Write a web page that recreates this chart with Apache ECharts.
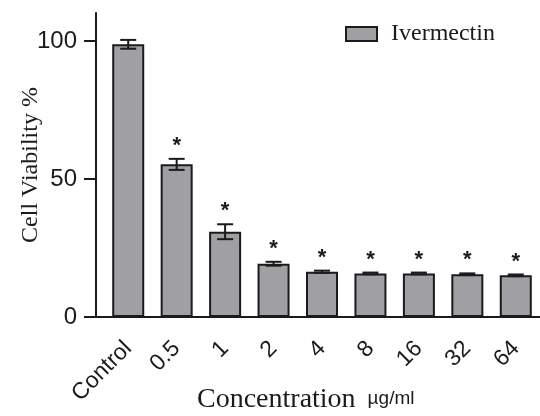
<!DOCTYPE html>
<html>
<head>
<meta charset="utf-8">
<script src="https://cdn.jsdelivr.net/npm/echarts@6/dist/echarts.min.js"></script>
<style>
  html, body { margin: 0; padding: 0; background: #fff; }
  #chart { width: 540px; height: 416px; }
</style>
</head>
<body>
<div id="chart"></div>
<script>
// 数据
const categories = ['Control', '0.5', '1', '2', '4', '8', '16', '32', '64']
const viability = [98.8, 55.3, 30.9, 19.3, 16.4, 15.8, 15.8, 15.5, 15.1]
const errors = [1.6, 2.0, 2.7, 0.7, 0.4, 0.3, 0.3, 0.3, 0.3]
const marks = ['', '*', '*', '*', '*', '*', '*', '*', '*']

const ink = '#1c1a1a'
const myChart = echarts.init(document.getElementById('chart'))

myChart.setOption({
  animation: false,
  title: {
    // 横坐标标题：Concentration 用衬线字体，µg/ml 用无衬线字体
    text: '{a|Concentration}{b|µg/ml}',
    left: 192,
    top: 381,
    textStyle: {
      rich: {
        a: { fontFamily: 'Liberation Serif', fontSize: 28, fontWeight: 'normal', color: ink },
        b: { fontFamily: 'Liberation Sans', fontSize: 19, fontWeight: 'normal', color: ink, padding: [0, 0, 3, 12] }
      }
    }
  },
  legend: {
    left: 340,
    top: 17,
    icon: 'rect',
    itemWidth: 31,
    itemHeight: 14,
    itemStyle: { color: '#a0a0a4', borderColor: ink, borderWidth: 2 },
    textStyle: {
      fontFamily: 'Liberation Serif',
      fontSize: 24,
      color: ink,
      padding: [0, 0, 0, 9]
    },
    data: ['Ivermectin']
  },
  grid: [
    // 柱子所在区域，0~100
    { left: 104, right: -2, top: 41, bottom: 99 },
    // 外框：纵轴线延伸到 110，横轴线延伸到纵轴
    { left: 96, right: 0, top: 13, bottom: 99 }
  ],
  xAxis: [
    {
      type: 'category',
      gridIndex: 0,
      data: categories,
      axisLine: { lineStyle: { color: ink, width: 2 } },
      axisTick: { length: 12, alignWithLabel: true, lineStyle: { color: ink, width: 2 } },
      axisLabel: {
        rotate: 45,
        margin: 28,
        interval: 0,
        fontFamily: 'Liberation Sans',
        fontSize: 23,
        color: ink
      }
    },
    {
      type: 'category',
      gridIndex: 1,
      data: [''],
      axisLine: { lineStyle: { color: ink, width: 2 } },
      axisTick: { show: false },
      axisLabel: { show: false }
    }
  ],
  yAxis: [
    {
      type: 'value',
      gridIndex: 0,
      min: 0,
      max: 100,
      interval: 50,
      offset: 8,
      splitLine: { show: false },
      axisLine: { show: true, lineStyle: { color: ink, width: 2 } },
      axisTick: { show: true, inside: false, length: 12, lineStyle: { color: ink, width: 2 } },
      axisLabel: {
        margin: 19,
        fontFamily: 'Liberation Sans',
        fontSize: 24,
        color: ink
      }
    },
    {
      type: 'value',
      gridIndex: 1,
      min: 0,
      max: 110,
      name: 'Cell Viability %',
      nameLocation: 'middle',
      nameGap: 53,
      nameTextStyle: { fontFamily: 'Liberation Serif', fontSize: 24, color: ink },
      splitLine: { show: false },
      axisLine: { show: true, lineStyle: { color: ink, width: 2 } },
      axisTick: { show: false },
      axisLabel: { show: false }
    }
  ],
  series: [
    {
      name: 'Ivermectin',
      type: 'bar',
      xAxisIndex: 0,
      yAxisIndex: 0,
      data: viability,
      barWidth: 32,
      itemStyle: { color: '#a0a0a4', borderColor: ink, borderWidth: 2 }
    },
    {
      // 误差线 + 显著性星号
      type: 'custom',
      xAxisIndex: 0,
      yAxisIndex: 0,
      data: viability.map((v, i) => [i, v, errors[i]]),
      renderItem: (params, api) => {
        const i = api.value(0)
        const hi = api.coord([i, api.value(1) + api.value(2)])
        const lo = api.coord([i, api.value(1) - api.value(2)])
        const half = 8
        const style = { stroke: ink, lineWidth: 2 }
        const children = [
          { type: 'line', shape: { x1: hi[0], y1: hi[1], x2: lo[0], y2: lo[1] }, style },
          { type: 'line', shape: { x1: hi[0] - half, y1: hi[1], x2: hi[0] + half, y2: hi[1] }, style },
          { type: 'line', shape: { x1: lo[0] - half, y1: lo[1], x2: lo[0] + half, y2: lo[1] }, style }
        ]
        if (marks[i]) {
          children.push({
            type: 'text',
            style: {
              text: marks[i],
              x: hi[0],
              y: hi[1] - 2,
              align: 'center',
              verticalAlign: 'bottom',
              fontFamily: 'Liberation Sans',
              fontSize: 22,
              fontWeight: 'bold',
              fill: ink
            }
          })
        }
        return { type: 'group', children }
      },
      z: 3
    }
  ]
})
</script>
</body>
</html>
